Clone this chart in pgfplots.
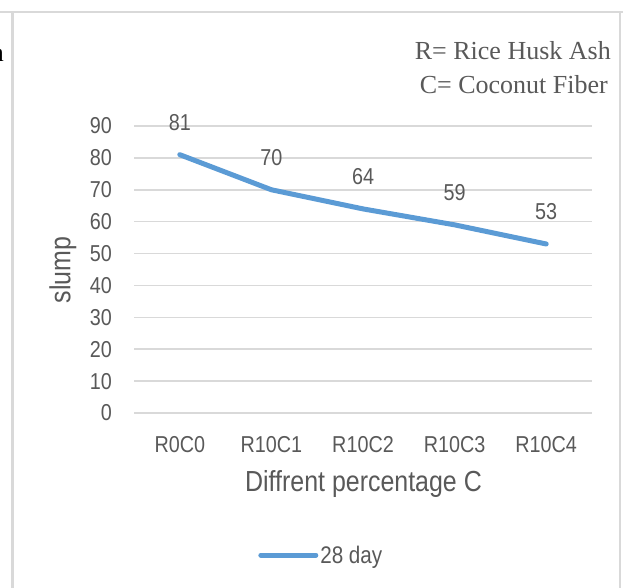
\documentclass[border=0pt]{standalone}
\usepackage{fontspec}
\setmainfont{Liberation Sans}[FakeStretch=0.86]
\newfontfamily\seriffont{Liberation Serif}
\usepackage{pgfplots}
\pgfplotsset{compat=1.18}
\definecolor{txt}{HTML}{595959}
\definecolor{gridc}{HTML}{D9D9D9}
\definecolor{series}{HTML}{5B9BD5}

\begin{document}
\begin{tikzpicture}[x=1bp,y=1bp]
\useasboundingbox (0,0) rectangle (623,588);
\fill[white] (0,0) rectangle (623,588);
% chart frame
\draw[gridc, line width=1.5bp] (0,576) -- (623,576);
\draw[gridc, line width=2.5bp] (12.5,0) -- (12.5,576);
\draw[gridc, line width=1.5bp] (620,0) -- (620,576);

\begin{axis}[
  at={(134bp,175bp)}, anchor=south west,
  scale only axis, width=458bp, height=287bp,
  xmin=-0.5, xmax=4.5, ymin=0, ymax=90,
  xtick={0,1,2,3,4},
  xticklabels={R0C0,R10C1,R10C2,R10C3,R10C4},
  ytick={0,10,...,90},
  axis line style={draw=none},
  tick style={draw=none},
  ymajorgrids,
  major grid style={gridc, line width=1.5bp},
  clip=false,
  /pgf/number format/assume math mode=true,
  ticklabel style={text=txt, font=\fontsize{23bp}{27bp}\selectfont},
  xticklabel style={anchor=base, yshift=-40bp},
  yticklabel style={anchor=east, inner xsep=0pt, xshift=-22bp},
  nodes near coords,
  every node near coord/.append style={anchor=center, yshift=32bp, text=txt,
    font=\fontsize{23bp}{27bp}\selectfont},
  legend style={at={(0.271,-0.495)}, anchor=west, draw=none, fill=none,
    inner sep=0pt, text=txt, font=\fontsize{24bp}{28bp}\selectfont},
  legend image code/.code={\draw[#1, line width=5bp, line cap=round] (0bp,0bp) -- (55bp,0bp);},
]
\addplot[series, line width=5bp, line cap=round, mark=none]
  coordinates {(0,81) (1,70) (2,64) (3,59) (4,53)};
\legend{28 day}
\end{axis}

\node[txt, rotate=90, inner sep=0pt, font=\fontsize{29bp}{33bp}\selectfont] at (63,318) {slump};
\node[txt, anchor=base, inner sep=0pt, font=\fontsize{29bp}{33bp}\selectfont] at (363.5,96) {Diffrent percentage C};
\node[txt, anchor=base east, inner sep=0pt, font=\seriffont\fontsize{26bp}{30bp}\selectfont] at (611,528) {R= Rice Husk Ash};
\node[txt, anchor=base east, inner sep=0pt, font=\seriffont\fontsize{26bp}{30bp}\selectfont] at (608,494) {C= Coconut Fiber};
\node[anchor=base east, inner sep=0pt, font=\seriffont\fontsize{26bp}{30bp}\selectfont] at (4,526) {n};
\end{tikzpicture}
\end{document}
